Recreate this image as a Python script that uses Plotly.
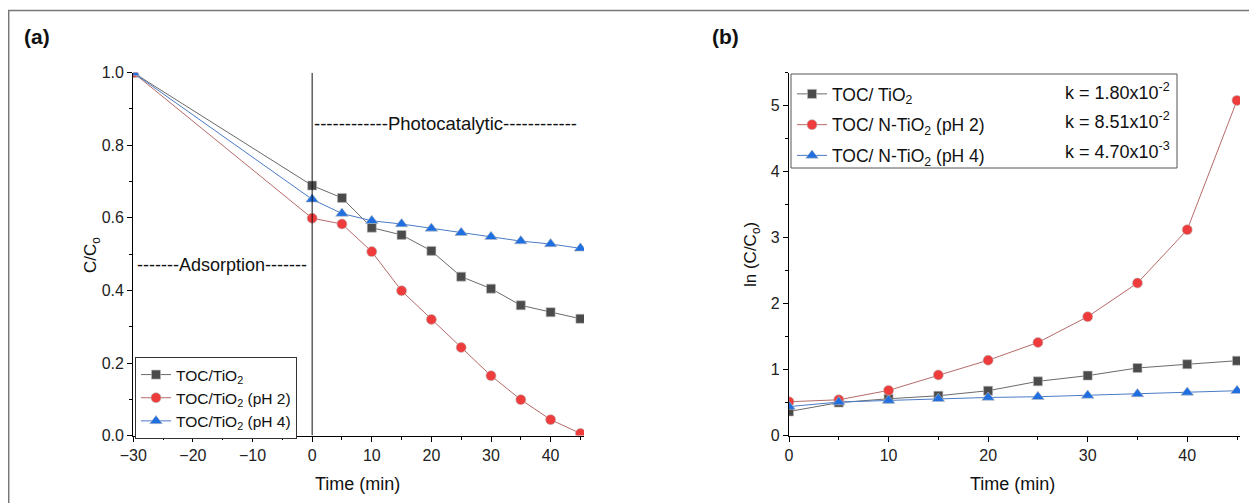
import plotly.graph_objects as go

# ---- Data panel (a) ----
time_a = [-30, 0, 5, 10, 15, 20, 25, 30, 35, 40, 45]
toc_tio2_a = [1.0, 0.689, 0.655, 0.573, 0.553, 0.509, 0.438, 0.405, 0.359, 0.340, 0.322]
toc_ph2_a = [1.0, 0.599, 0.583, 0.507, 0.399, 0.320, 0.243, 0.165, 0.099, 0.044, 0.006]
toc_ph4_a = [1.0, 0.651, 0.612, 0.592, 0.583, 0.571, 0.559, 0.548, 0.536, 0.528, 0.516]
names_a = ["TOC/TiO<sub>2</sub>", "TOC/TiO<sub>2</sub> (pH 2)", "TOC/TiO<sub>2</sub> (pH 4)"]

# ---- Data panel (b) ----
time_b = [0, 5, 10, 15, 20, 25, 30, 35, 40, 45]
ln_tio2_b = [0.365, 0.50, 0.558, 0.604, 0.680, 0.822, 0.909, 1.025, 1.081, 1.135]
ln_ph2_b = [0.513, 0.543, 0.685, 0.919, 1.142, 1.411, 1.802, 2.312, 3.12, 5.08]
ln_ph4_b = [0.44, 0.508, 0.533, 0.558, 0.578, 0.589, 0.609, 0.630, 0.655, 0.680]
names_b = ["TOC/ TiO<sub>2</sub>", "TOC/ N-TiO<sub>2</sub> (pH 2)", "TOC/ N-TiO<sub>2</sub> (pH 4)"]
k_labels = ["k = 1.80x10<sup>-2</sup>", "k = 8.51x10<sup>-2</sup>", "k = 4.70x10<sup>-3</sup>"]

FONT = "Liberation Sans, Arial, sans-serif"
marker_colors = ["#4b4b4b", "#ee3b3b", "#1f6fe0"]
line_colors = ["#6a6a6a", "#b56a6a", "#4a7bc4"]
symbols = ["square", "circle", "triangle-up"]
sizes = [9, 10, 11]

W, H = 1257, 503
OFF = 8  # page body offset


def px(x):
    return (x - OFF) / W


def py(y):
    return 1 - (y - OFF) / H


fig = go.Figure()

for i, ys in enumerate([toc_tio2_a, toc_ph2_a, toc_ph4_a]):
    fig.add_trace(go.Scatter(
        x=time_a, y=ys, mode="lines+markers", name=names_a[i],
        line=dict(color=line_colors[i], width=1),
        marker=dict(symbol=symbols[i], size=sizes[i], color=marker_colors[i],
                    line=dict(color="#bbbbbb", width=0.6)),
        xaxis="x", yaxis="y", legend="legend"))

for i, ys in enumerate([ln_tio2_b, ln_ph2_b, ln_ph4_b]):
    fig.add_trace(go.Scatter(
        x=time_b, y=ys, mode="lines+markers", name=names_b[i],
        line=dict(color=line_colors[i], width=1),
        marker=dict(symbol=symbols[i], size=sizes[i], color=marker_colors[i],
                    line=dict(color="#bbbbbb", width=0.6)),
        xaxis="x2", yaxis="y2", legend="legend2", legendgroup="g%d" % i))

ydom = [py(435.6), py(72.7)]

axis_common = dict(showgrid=False, zeroline=False, showline=True, linecolor="#000",
                   linewidth=1.3, ticks="outside", ticklen=5, tickwidth=1.2, tickcolor="#000",
                   tickfont=dict(family=FONT, size=16, color="#222"))


def minor(dt, t0):
    return dict(dtick=dt, tick0=t0, ticks="outside", ticklen=3, tickwidth=1, tickcolor="#000")


fig.update_layout(
    width=W, height=H, margin=dict(l=0, r=0, t=0, b=0, autoexpand=False),
    paper_bgcolor="white", plot_bgcolor="white",
    font=dict(family=FONT, color="#111"),
    xaxis=dict(domain=[px(133.3), px(584)], range=[-30, 45.6], tickvals=list(range(-30, 41, 10)),
               minor=minor(5, -30), anchor="y", **axis_common),
    yaxis=dict(domain=ydom, range=[0, 1.0], tickvals=[0, 0.2, 0.4, 0.6, 0.8, 1.0],
               tickformat=".1f", minor=minor(0.1, 0), anchor="x", **axis_common),
    xaxis2=dict(domain=[px(789), px(1240)], range=[0, 45.3], tickvals=list(range(0, 41, 10)),
                minor=minor(5, 0), anchor="y2", **axis_common),
    yaxis2=dict(domain=ydom, range=[0, 5.5], tickvals=[0, 1, 2, 3, 4, 5],
                minor=minor(0.5, 0), anchor="x2", **axis_common),
    legend=dict(x=px(135), y=py(357), xanchor="left", yanchor="top",
                bgcolor="white", bordercolor="#333", borderwidth=1,
                font=dict(family=FONT, size=15.5, color="#111"), tracegroupgap=0,
                itemwidth=30),
    legend2=dict(x=px(792), y=py(76), xanchor="left", yanchor="top",
                 bgcolor="rgba(0,0,0,0)", borderwidth=0,
                 font=dict(family=FONT, size=17.5, color="#111"), tracegroupgap=5,
                 itemwidth=30),
    showlegend=True,
)

annotations = [
    dict(text="<b>(a)</b>", x=px(22), y=py(37), xref="paper", yref="paper",
         xanchor="left", yanchor="middle", showarrow=False, font=dict(family=FONT, size=21, color="#111")),
    dict(text="<b>(b)</b>", x=px(710), y=py(37), xref="paper", yref="paper",
         xanchor="left", yanchor="middle", showarrow=False, font=dict(family=FONT, size=21, color="#111")),
    dict(text="------------Photocatalytic------------", x=0, y=0.861, xref="x", yref="y",
         xanchor="left", yanchor="middle", showarrow=False, font=dict(family=FONT, size=18.5, color="#111")),
    dict(text="-------Adsorption-------", x=-15.1, y=0.47, xref="x", yref="y",
         xanchor="center", yanchor="middle", showarrow=False, font=dict(family=FONT, size=18, color="#111")),
    dict(text="C/C<sub>o</sub>", x=px(92), y=py(255), xref="paper", yref="paper", textangle=-90,
         xanchor="center", yanchor="middle", showarrow=False, font=dict(family=FONT, size=17, color="#111")),
    dict(text="ln (C/C<sub>o</sub>)", x=px(752), y=py(255), xref="paper", yref="paper", textangle=-90,
         xanchor="center", yanchor="middle", showarrow=False, font=dict(family=FONT, size=17, color="#111")),
    dict(text="Time (min)", x=px(357), y=py(484), xref="paper", yref="paper",
         xanchor="center", yanchor="middle", showarrow=False, font=dict(family=FONT, size=18, color="#111")),
    dict(text="Time (min)", x=px(1012), y=py(484), xref="paper", yref="paper",
         xanchor="center", yanchor="middle", showarrow=False, font=dict(family=FONT, size=18, color="#111")),
]
k_y = [91, 121, 151]
for lab, yy in zip(k_labels, k_y):
    annotations.append(dict(text=lab, x=px(1172), y=py(yy), xref="paper", yref="paper",
                            xanchor="right", yanchor="middle", showarrow=False,
                            font=dict(family=FONT, size=18, color="#111")))
fig.update_layout(annotations=annotations)

fig.update_layout(shapes=[
    dict(type="line", xref="x", yref="y", x0=0, x1=0, y0=0, y1=1.0,
         line=dict(color="#111", width=1)),
    dict(type="rect", xref="paper", yref="paper", x0=px(791), x1=px(1177),
         y0=py(168), y1=py(74), line=dict(color="#555", width=1)),
    dict(type="rect", xref="paper", yref="paper", x0=px(8.7), x1=1.05,
         y0=-0.05, y1=py(10.5), line=dict(color="#777", width=1.5)),
])

fig.write_html("out.html")
